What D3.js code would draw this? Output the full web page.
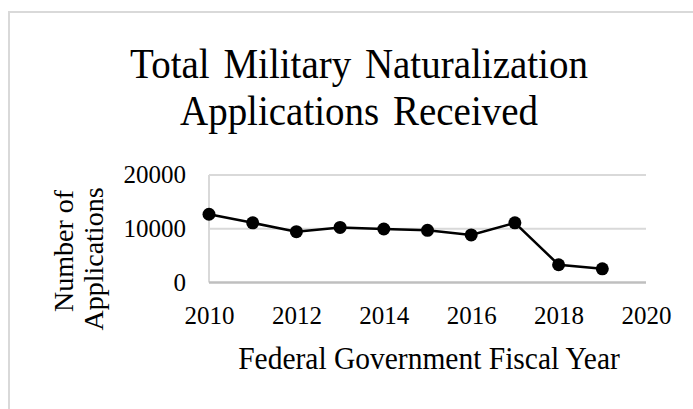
<!DOCTYPE html>
<html><head><meta charset="utf-8">
<script src="https://cdn.jsdelivr.net/npm/d3@7"></script>
<style>html,body{margin:0;padding:0;background:#fff;}svg{display:block;}</style>
</head><body>
<script>
const years = [2010, 2011, 2012, 2013, 2014, 2015, 2016, 2017, 2018, 2019];
const applications = [12700, 11100, 9450, 10250, 9950, 9700, 8850, 11100, 3300, 2550];
const xTicks = [2010, 2012, 2014, 2016, 2018, 2020];
const yTicks = [0, 10000, 20000];
const titleLines = ["Total Military Naturalization", "Applications Received"];
const yTitleLines = ["Number of", "Applications"];
const xTitle = "Federal Government Fiscal Year";

const W = 693, H = 409;
const svg = d3.select("body").append("svg").attr("width", W).attr("height", H);
const font = "'Liberation Serif','Times New Roman',serif";

svg.append("rect").attr("x", 9).attr("y", 12).attr("width", 720).attr("height", 420)
  .attr("fill", "none").attr("stroke", "#d9d9d9").attr("stroke-width", 2);

const x = d3.scaleLinear().domain([2010, 2020]).range([209, 646]);
const y = d3.scaleLinear().domain([0, 20000]).range([282.5, 175]);

// title (slightly tall glyphs)
[[titleLines[0], 78], [titleLines[1], 125]].forEach(([t, by]) => {
  svg.append("text").attr("transform", `translate(359,${by}) scale(1,1.1)`)
    .attr("text-anchor", "middle")
    .style("font-family", font).style("font-size", "39px").style("word-spacing", "4px")
    .text(t);
});

// gridlines
svg.append("g").selectAll("line").data(yTicks.filter(d => d > 0)).join("line")
  .attr("x1", x(2010)).attr("x2", x(2020)).attr("y1", d => y(d)).attr("y2", d => y(d))
  .attr("stroke", "#d9d9d9").attr("stroke-width", 2);
svg.append("line").attr("x1", x(2010)).attr("x2", x(2010)).attr("y1", y(20000)).attr("y2", y(0))
  .attr("stroke", "#d9d9d9").attr("stroke-width", 2);
svg.append("line").attr("x1", x(2010)).attr("x2", x(2020)).attr("y1", y(0)).attr("y2", y(0))
  .attr("stroke", "#bfbfbf").attr("stroke-width", 2.5);

// y axis labels
const yAxis = d3.axisLeft(y).tickValues(yTicks).tickSize(0).tickPadding(23).tickFormat(d3.format("d"));
const gy = svg.append("g").attr("transform", `translate(${x(2010)},0)`).call(yAxis);
gy.select(".domain").remove();
gy.selectAll("text").style("font-family", font).style("font-size", "25px").attr("fill", "#000")
  .attr("dy", "0.3em");

// x axis labels
const xAxis = d3.axisBottom(x).tickValues(xTicks).tickSize(0).tickPadding(24).tickFormat(d3.format("d"));
const gx = svg.append("g").attr("transform", `translate(0,${y(0)})`).call(xAxis);
gx.select(".domain").remove();
gx.selectAll("text").style("font-family", font).style("font-size", "25px").attr("fill", "#000");

// line + markers
const line = d3.line().x((d, i) => x(years[i])).y(d => y(d));
svg.append("path").datum(applications).attr("d", line).attr("fill", "none")
  .attr("stroke", "#000").attr("stroke-width", 2.5);
svg.append("g").selectAll("circle").data(applications).join("circle")
  .attr("cx", (d, i) => x(years[i])).attr("cy", d => y(d)).attr("r", 6.5).attr("fill", "#000");

// y title
const yt = svg.append("text").attr("transform", "rotate(-90)")
  .style("font-family", font).style("font-size", "28px").attr("text-anchor", "middle");
yt.selectAll("tspan").data(yTitleLines).join("tspan")
  .attr("x", (d, i) => i === 0 ? -251 : -259).attr("y", (d, i) => 73 + i * 30).text(d => d);

// x title
svg.append("text").attr("transform", "translate(429,369) scale(1,1.1)").attr("text-anchor", "middle")
  .style("font-family", font).style("font-size", "29.5px").text(xTitle);
</script>
</body></html>
